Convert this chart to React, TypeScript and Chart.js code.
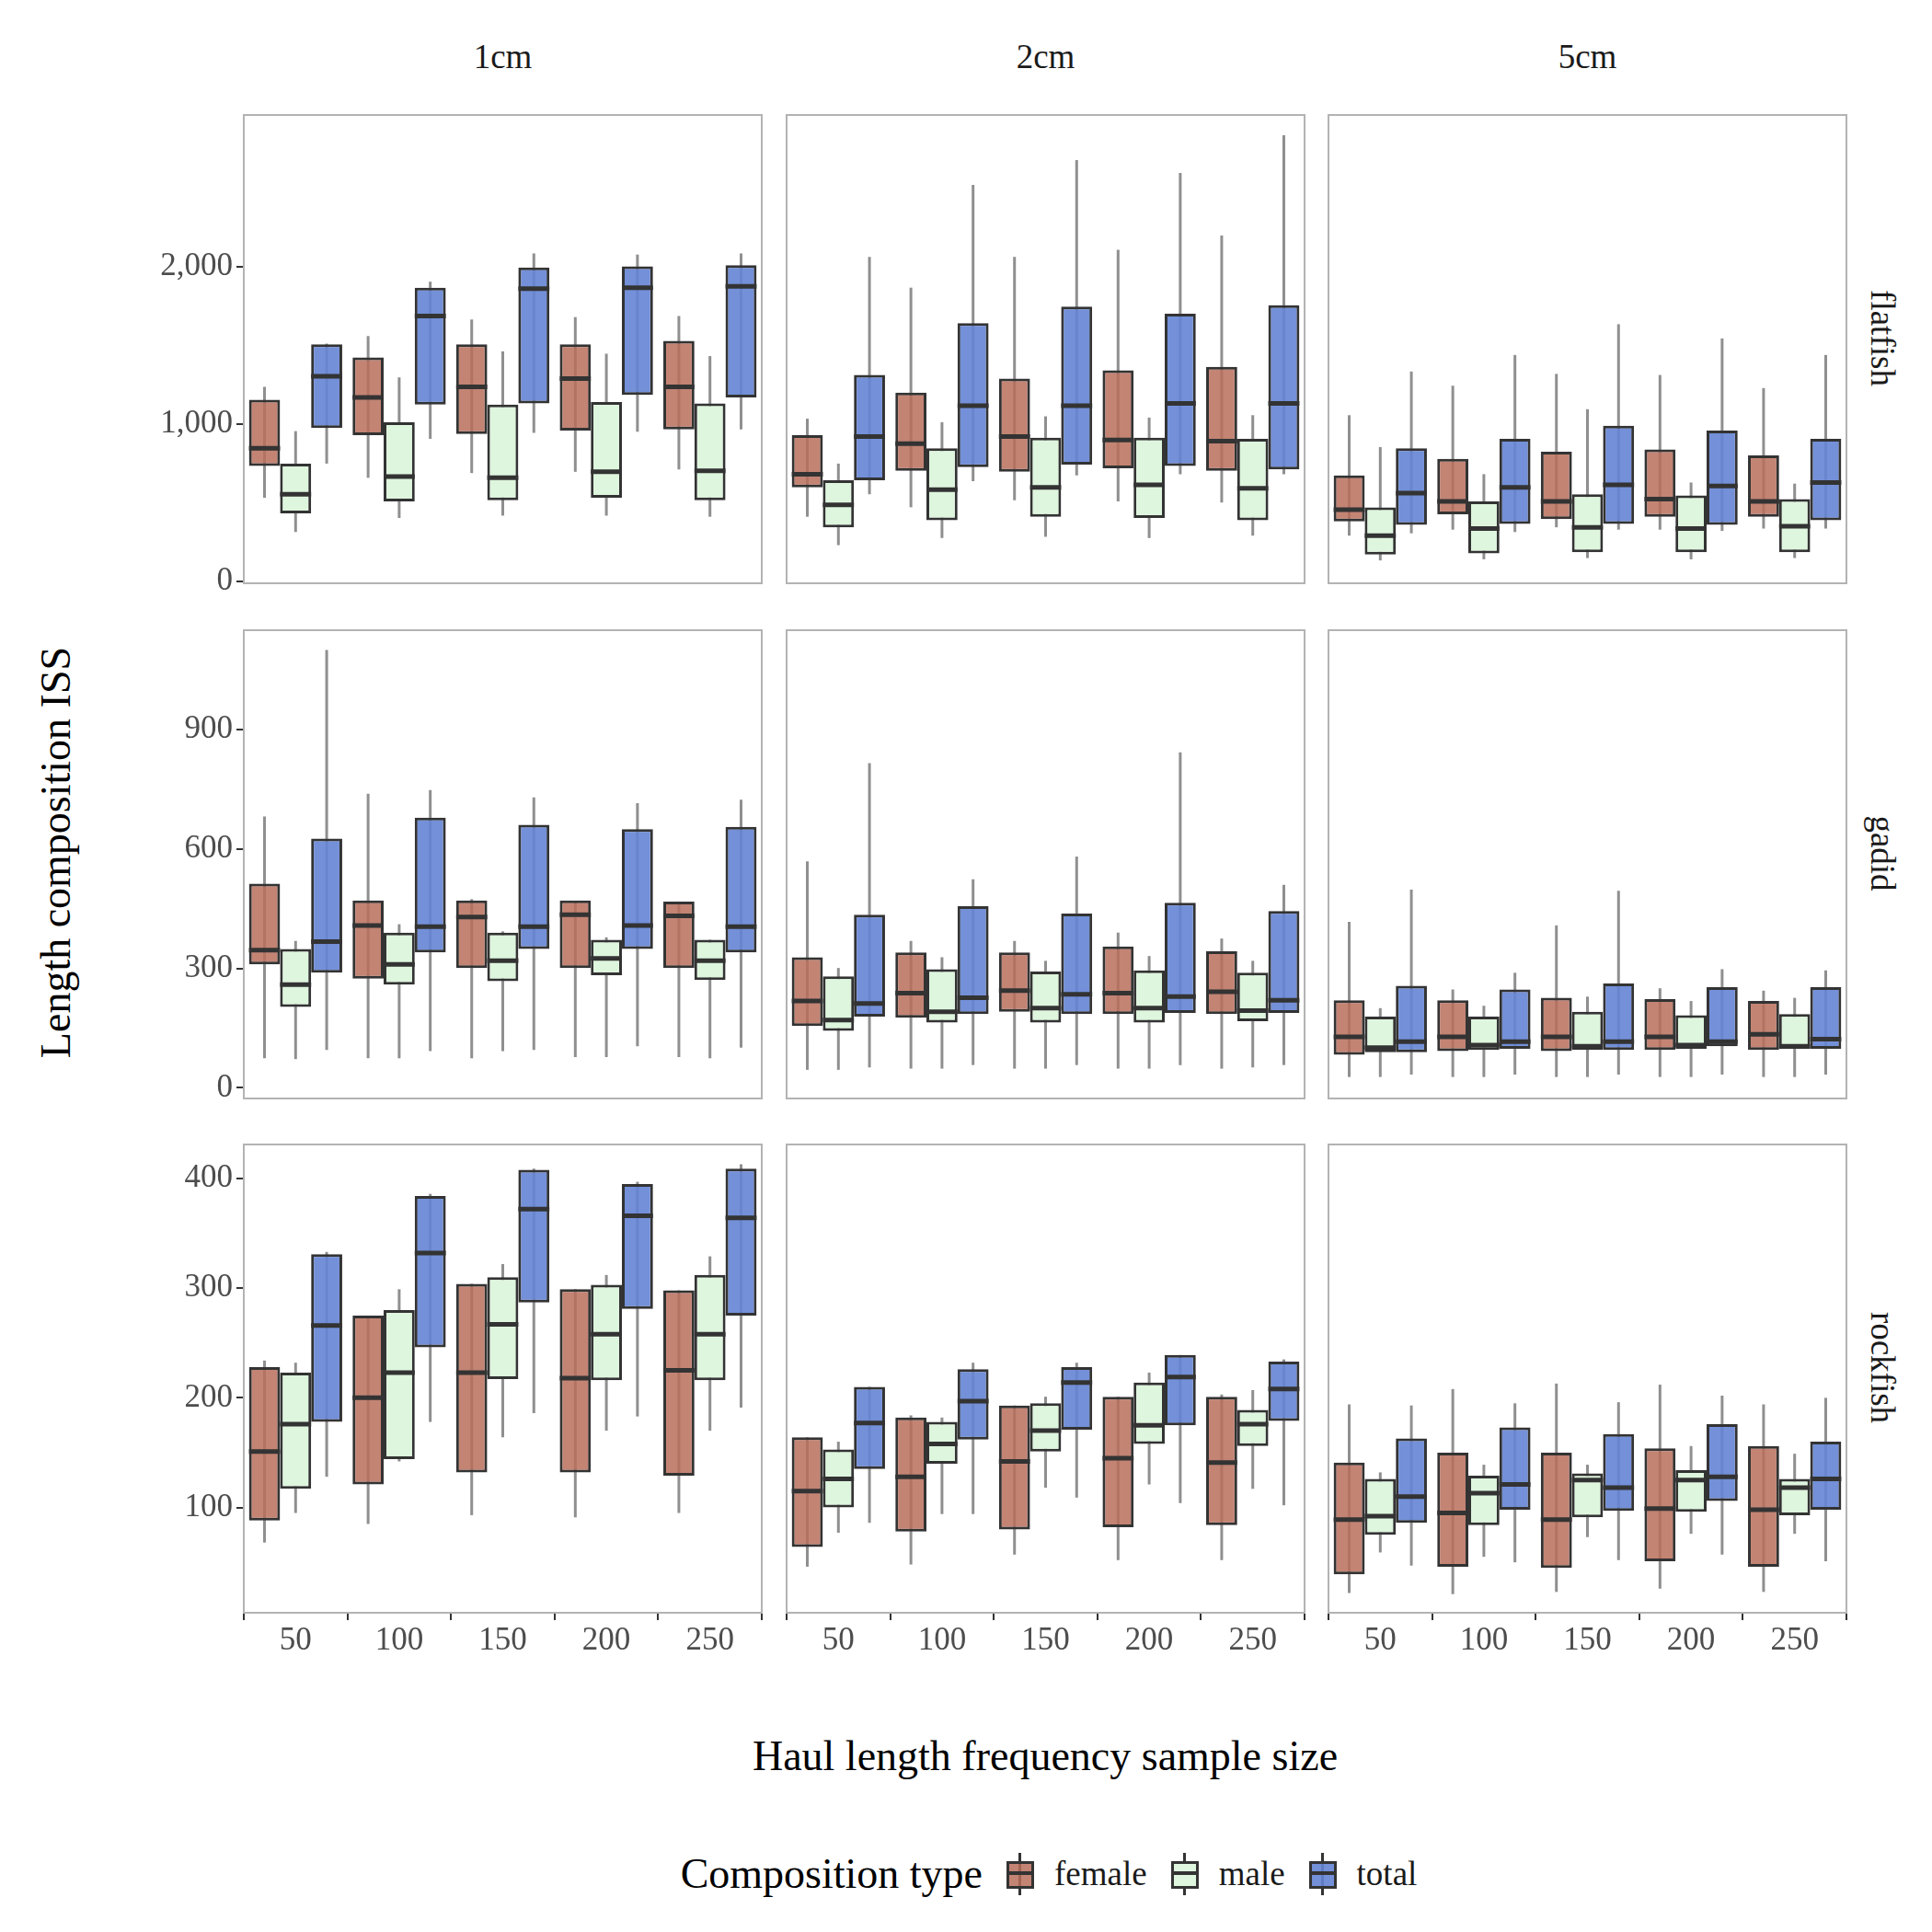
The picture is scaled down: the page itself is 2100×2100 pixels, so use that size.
import { useRef, useEffect } from 'react';
import { Chart, registerables } from 'chart.js';

Chart.register(...registerables);

// each entry: [lowWhisker, q1, median, q3, highWhisker]
const sizes = ['50', '100', '150', '200', '250'];
const types = ['female', 'male', 'total'];
const fills = ['rgba(185,110,92,0.85)', 'rgba(222,245,222,1)', 'rgba(100,132,212,0.9)'];
const cols = ['1cm', '2cm', '5cm'];
const rows = ['flatfish', 'gadid', 'rockfish'];

const flat1Female = [[532, 734, 846, 1154, 1236], [659, 929, 1169, 1423, 1558], [689, 936, 1236, 1506, 1663], [697, 959, 1288, 1506, 1678], [712, 966, 1236, 1528, 1685]];
const flat1Male = [[315, 434, 554, 749, 955], [404, 509, 667, 1011, 1296], [419, 517, 659, 1124, 1461], [419, 532, 697, 1139, 1446], [412, 517, 704, 1131, 1431]];
const flat1Total = [[749, 974, 1303, 1506, 1510], [906, 1124, 1685, 1865, 1903], [944, 1131, 1858, 1993, 2082], [951, 1184, 1865, 2000, 2075], [966, 1169, 1873, 2007, 2082]];
const flat2Female = [[412, 599, 682, 929, 1034], [472, 704, 876, 1199, 1865], [517, 697, 921, 1288, 2060], [509, 719, 899, 1341, 2105], [502, 704, 891, 1363, 2195]];
const flat2Male = [[232, 345, 487, 644, 749], [277, 390, 584, 846, 1011], [285, 412, 599, 914, 1049], [277, 404, 614, 914, 1041], [292, 390, 592, 906, 1056]];
const flat2Total = [[554, 644, 921, 1311, 2060], [637, 727, 1116, 1640, 2517], [674, 742, 1116, 1745, 2674], [682, 734, 1131, 1700, 2592], [682, 712, 1131, 1753, 2831]];
const flat5Female = [[292, 382, 457, 674, 1056], [330, 427, 509, 779, 1243], [345, 397, 509, 824, 1318], [330, 412, 524, 839, 1311], [337, 412, 509, 801, 1228]];
const flat5Male = [[135, 172, 292, 472, 854], [142, 180, 337, 509, 682], [150, 187, 345, 554, 1094], [142, 187, 337, 547, 629], [150, 187, 352, 524, 622]];
const flat5Total = [[307, 360, 562, 846, 1333], [315, 367, 599, 906, 1438], [330, 367, 614, 989, 1633], [322, 360, 607, 959, 1543], [337, 390, 629, 906, 1438]];

const gad1Female = [[74, 310, 346, 513, 682], [74, 274, 408, 471, 739], [74, 301, 429, 471, 474], [77, 301, 435, 471, 468], [77, 301, 432, 468, 468]];
const gad1Male = [[72, 203, 259, 349, 369], [74, 259, 310, 390, 411], [92, 268, 319, 390, 393], [77, 283, 325, 372, 378], [74, 271, 319, 372, 372]];
const gad1Total = [[95, 289, 367, 626, 1100], [92, 340, 405, 679, 748], [95, 349, 405, 661, 730], [104, 349, 408, 650, 715], [101, 340, 405, 656, 724]];
const gad2Female = [[45, 155, 218, 328, 569], [48, 176, 238, 340, 369], [48, 191, 244, 340, 369], [48, 185, 238, 355, 390], [48, 185, 241, 343, 375]];
const gad2Male = [[45, 143, 170, 280, 301], [48, 164, 191, 298, 328], [48, 164, 200, 292, 319], [48, 164, 200, 295, 331], [51, 167, 194, 289, 319]];
const gad2Total = [[51, 179, 212, 435, 816], [57, 185, 226, 456, 524], [57, 185, 235, 438, 581], [57, 188, 229, 465, 843], [57, 188, 220, 444, 510]];
const gad5Female = [[27, 83, 128, 220, 417], [27, 92, 128, 220, 247], [27, 92, 128, 226, 408], [27, 95, 128, 223, 250], [27, 95, 134, 218, 244]];
const gad5Male = [[27, 89, 101, 179, 200], [27, 95, 107, 179, 206], [27, 95, 104, 191, 229], [27, 98, 107, 182, 218], [27, 98, 104, 185, 226]];
const gad5Total = [[33, 89, 116, 256, 498], [33, 98, 116, 247, 289], [33, 95, 116, 262, 495], [33, 104, 116, 253, 298], [33, 98, 122, 253, 295]];

const rock1Female = [[68, 88, 151, 228, 234], [85, 121, 200, 275, 275], [93, 132, 223, 304, 304], [91, 132, 218, 299, 299], [95, 129, 225, 298, 298]];
const rock1Male = [[95, 117, 176, 223, 232], [142, 144, 223, 280, 299], [164, 217, 267, 310, 322], [170, 216, 258, 303, 312], [170, 216, 258, 312, 329]];
const rock1Total = [[128, 178, 266, 331, 333], [178, 246, 332, 384, 386], [186, 287, 372, 408, 409], [183, 281, 366, 395, 397], [191, 275, 364, 409, 413]];
const rock2Female = [[46, 64, 115, 164, 164], [48, 78, 128, 182, 184], [57, 80, 142, 193, 193], [52, 82, 145, 201, 201], [52, 84, 141, 201, 203]];
const rock2Male = [[77, 100, 126, 153, 160], [94, 140, 158, 178, 182], [118, 151, 170, 195, 201], [121, 158, 175, 214, 223], [117, 156, 176, 189, 207]];
const rock2Total = [[86, 135, 177, 210, 210], [94, 162, 197, 226, 232], [109, 171, 214, 228, 232], [104, 175, 219, 239, 239], [102, 179, 208, 233, 235]];
const rock5Female = [[22, 39, 89, 141, 194], [21, 46, 95, 150, 208], [23, 45, 89, 150, 213], [26, 51, 99, 154, 212], [23, 46, 98, 156, 194]];
const rock5Male = [[59, 75, 92, 126, 132], [55, 84, 113, 129, 139], [73, 91, 125, 131, 139], [76, 96, 125, 134, 156], [76, 93, 118, 126, 149]];
const rock5Total = [[47, 86, 110, 163, 193], [50, 98, 121, 173, 195], [52, 97, 118, 167, 196], [57, 106, 128, 176, 202], [51, 98, 126, 160, 200]];

const rowRanges = [[-10, 2960], [-27, 1150], [4, 431]];
const rowTicks = [[0, 1000, 2000], [0, 300, 600, 900], [100, 200, 300, 400]];

const panelData = [
  [[flat1Female, flat1Male, flat1Total], [flat2Female, flat2Male, flat2Total], [flat5Female, flat5Male, flat5Total]],
  [[gad1Female, gad1Male, gad1Total], [gad2Female, gad2Male, gad2Total], [gad5Female, gad5Male, gad5Total]],
  [[rock1Female, rock1Male, rock1Total], [rock2Female, rock2Male, rock2Total], [rock5Female, rock5Male, rock5Total]],
];

const colLeft = [265, 855, 1444];
const rowTop = [101, 661, 1220];
const PW = 563;
const PH = 533;
const AX = 110;
const AXH = 60;
const FONT = "'Liberation Serif', 'DejaVu Serif', serif";

const boxPlugin = {
  id: 'boxParts',
  beforeDatasetsDraw(chart: any) {
    const ctx = chart.ctx;
    const y = chart.scales.y;
    ctx.save();
    ctx.strokeStyle = '#8f8f8f';
    ctx.lineWidth = 3;
    chart.data.datasets.forEach((ds: any, i: number) => {
      const meta = chart.getDatasetMeta(i);
      meta.data.forEach((bar: any, j: number) => {
        const s = ds.stats[j];
        ctx.beginPath();
        ctx.moveTo(bar.x, y.getPixelForValue(s[0]));
        ctx.lineTo(bar.x, y.getPixelForValue(s[4]));
        ctx.stroke();
      });
    });
    ctx.restore();
  },
  afterDatasetsDraw(chart: any) {
    const ctx = chart.ctx;
    const y = chart.scales.y;
    ctx.save();
    ctx.strokeStyle = '#333333';
    ctx.lineWidth = 5;
    chart.data.datasets.forEach((ds: any, i: number) => {
      const meta = chart.getDatasetMeta(i);
      meta.data.forEach((bar: any, j: number) => {
        const py = y.getPixelForValue(ds.stats[j][2]);
        ctx.beginPath();
        ctx.moveTo(bar.x - bar.width / 2, py);
        ctx.lineTo(bar.x + bar.width / 2, py);
        ctx.stroke();
      });
    });
    const a = chart.chartArea;
    ctx.strokeStyle = '#b3b3b3';
    ctx.lineWidth = 2;
    ctx.strokeRect(a.left, a.top, a.right - a.left, a.bottom - a.top);
    ctx.restore();
  },
};

const Panel = ({ r, c }: { r: number; c: number }) => {
  const canvasRef = useRef<HTMLCanvasElement | null>(null);

  useEffect(() => {
    const canvas = canvasRef.current;
    if (!canvas) return;
    const showY = c === 0;
    const showX = r === 2;
    const chart = new Chart(canvas, {
      type: 'bar',
      data: {
        labels: sizes,
        datasets: types.map((t, k) => ({
          label: t,
          data: panelData[r][c][k].map((s) => [s[1], s[3]]),
          stats: panelData[r][c][k],
          backgroundColor: fills[k],
          borderColor: '#333333',
          borderWidth: 3,
          borderSkipped: false,
          categoryPercentage: 0.9,
          barPercentage: 1,
        })) as any,
      },
      options: {
        animation: false,
        responsive: false,
        layout: { padding: { right: 2, top: 1 } },
        plugins: { legend: { display: false }, tooltip: { enabled: false } },
        scales: {
          x: {
            grid: { drawOnChartArea: false, tickLength: 8, color: showX ? '#333333' : 'transparent', lineWidth: 2 },
            border: { display: false },
            ticks: { color: showX ? '#4d4d4d' : 'transparent', font: { family: FONT, size: 35 }, padding: 2 },
            afterFit: (s: any) => { s.height = AXH; },
          },
          y: {
            min: rowRanges[r][0],
            max: rowRanges[r][1],
            grid: { drawOnChartArea: false, tickLength: 8, color: showY ? '#333333' : 'transparent', lineWidth: 2 },
            border: { display: false },
            ticks: { color: showY ? '#4d4d4d' : 'transparent', font: { family: FONT, size: 35 }, padding: 4 },
            afterBuildTicks: (s: any) => { s.ticks = rowTicks[r].map((v) => ({ value: v })); },
            afterFit: (s: any) => { s.width = AX; },
          },
        },
      },
      plugins: [boxPlugin],
    });
    return () => chart.destroy();
  }, [r, c]);

  return (
    <canvas
      ref={canvasRef}
      width={PW + AX + 2}
      height={PH + AXH + 1}
      style={{ position: 'absolute', left: colLeft[c] - AX, top: rowTop[r] - 1 }}
    />
  );
};

const LegendKey = ({ fill, label }: { fill: string; label: string }) => (
  <div style={{ display: 'flex', alignItems: 'center', marginLeft: 22 }}>
    <div style={{ position: 'relative', width: 36, height: 46 }}>
      <div style={{ position: 'absolute', left: 17, top: 0, width: 3, height: 46, background: '#333' }} />
      <div style={{ position: 'absolute', left: 4, top: 9, width: 24, height: 24, background: fill, border: '3px solid #333' }} />
      <div style={{ position: 'absolute', left: 4, top: 20, width: 30, height: 4, background: '#333' }} />
    </div>
    <span style={{ fontSize: 37, marginLeft: 20, color: '#1a1a1a' }}>{label}</span>
  </div>
);

const App = () => (
  <div style={{ position: 'absolute', left: 0, top: 0, width: 2100, height: 2100, background: '#fff', fontFamily: FONT }}>
    {rows.map((_, r) => cols.map((_, c) => <Panel key={`${r}-${c}`} r={r} c={c} />))}
    {cols.map((t, c) => (
      <div key={t} style={{ position: 'absolute', left: colLeft[c], top: 40, width: PW, textAlign: 'center', fontSize: 37, color: '#1a1a1a' }}>{t}</div>
    ))}
    {rows.map((t, r) => (
      <div key={t} style={{ position: 'absolute', left: 2046 - PH / 2, top: rowTop[r] + PH / 2 - 22, width: PH, textAlign: 'center', fontSize: 37, color: '#1a1a1a', transform: 'rotate(90deg)' }}>{t}</div>
    ))}
    <div style={{ position: 'absolute', left: 60 - 400, top: 928 - 28, width: 800, textAlign: 'center', fontSize: 46, transform: 'rotate(-90deg)' }}>Length composition ISS</div>
    <div style={{ position: 'absolute', left: 265, top: 1882, width: 1742, textAlign: 'center', fontSize: 46 }}>Haul length frequency sample size</div>
    <div style={{ position: 'absolute', left: 0, top: 2010, width: 2100, display: 'flex', justifyContent: 'center', alignItems: 'center' }}>
      <span style={{ fontSize: 46, marginLeft: 180 }}>Composition type</span>
      {types.map((t, k) => <LegendKey key={t} fill={fills[k]} label={t} />)}
    </div>
  </div>
);

export default App;
